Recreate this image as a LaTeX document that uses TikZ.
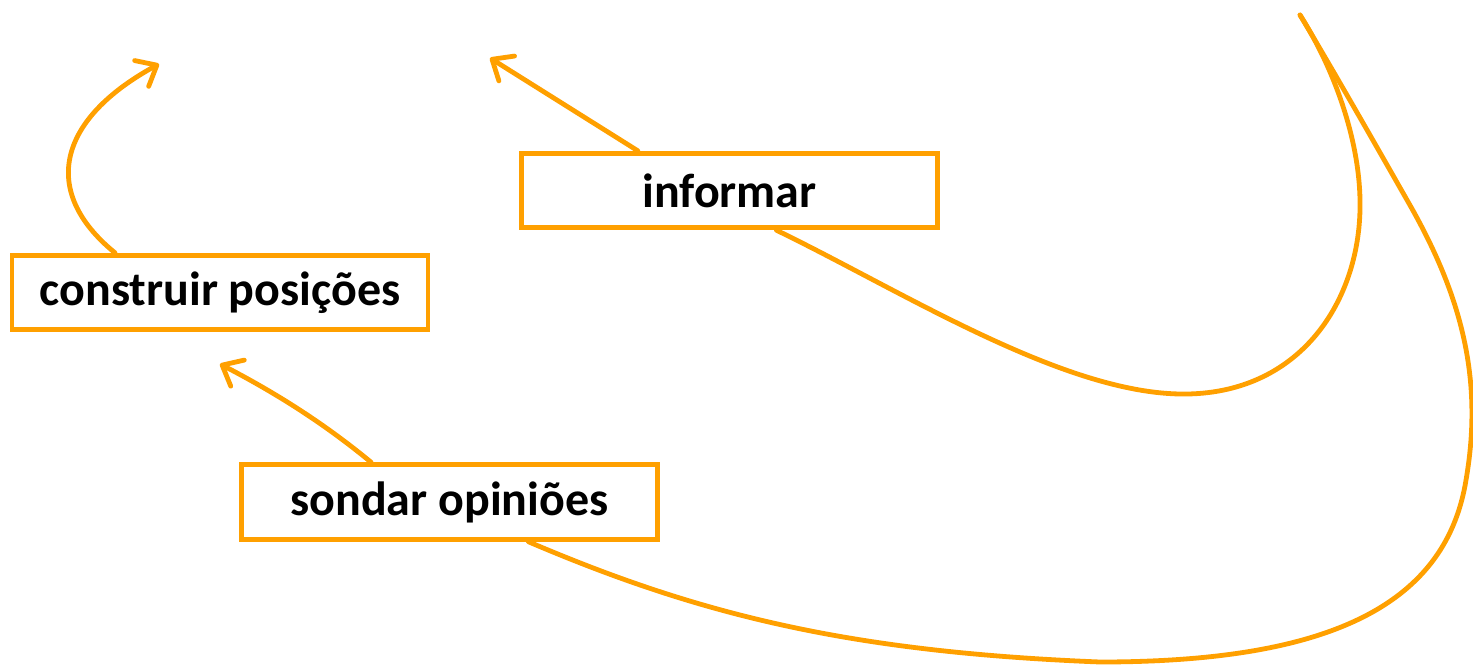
\documentclass[tikz,border=0pt]{standalone}
\usepackage{fontspec}
\setmainfont{Carlito}
\usetikzlibrary{arrows.meta}
\definecolor{orng}{RGB}{255,160,0}
\tikzset{
  box/.style={draw=orng, line width=3.6pt, minimum width=312pt, minimum height=56pt,
    inner sep=0pt, font=\fontsize{36}{42}\selectfont\bfseries, text=black},
  conn/.style={draw=orng, line width=3.6pt, line cap=round, line join=round},
  arr/.style={conn, -{Straight Barb[length=13pt, width=22pt, round]}}
}
\begin{document}
\begin{tikzpicture}[x=0.75pt, y=-0.75pt]
\useasboundingbox (0,0) rectangle (1473,664);
\node[box] (inf) at (729.5,190.5) {informar};
\node[box] (con) at (220,292.5) {construir posições};
\node[box] (snd) at (449.5,502) {sondar opiniões};
\coordinate (tipA) at (159,64);
\coordinate (tipB) at (490,58);
\coordinate (tipC) at (220,364);
\coordinate (top) at (1300,15);
% arrows
\draw[arr] ([xshift=79pt]con.north west) .. controls (38,190) and (60,118) .. (tipA);
\draw[arr] ([xshift=89pt]inf.north west) -- (tipB);
\draw[arr] ([xshift=99pt]snd.north west) .. controls (320,420) and (270,390) .. (tipC);
% long curves
\draw[conn] ([xshift=193pt]inf.south west) .. controls (900,290) and (1060,392) .. (1180,394)
  .. controls (1300,396) and (1362,300) .. (1360,200)
  .. controls (1359,140) and (1335,70) .. (top);
\draw[conn] ([xshift=217pt]snd.south west) .. controls (700,615) and (850,652) .. (1100,662)
  .. controls (1320,662) and (1445,610) .. (1466,480)
  .. controls (1484,376) and (1460,292) .. (1407,200)
  .. controls (1370,135) and (1330,65) .. (top);
\end{tikzpicture}
\end{document}
